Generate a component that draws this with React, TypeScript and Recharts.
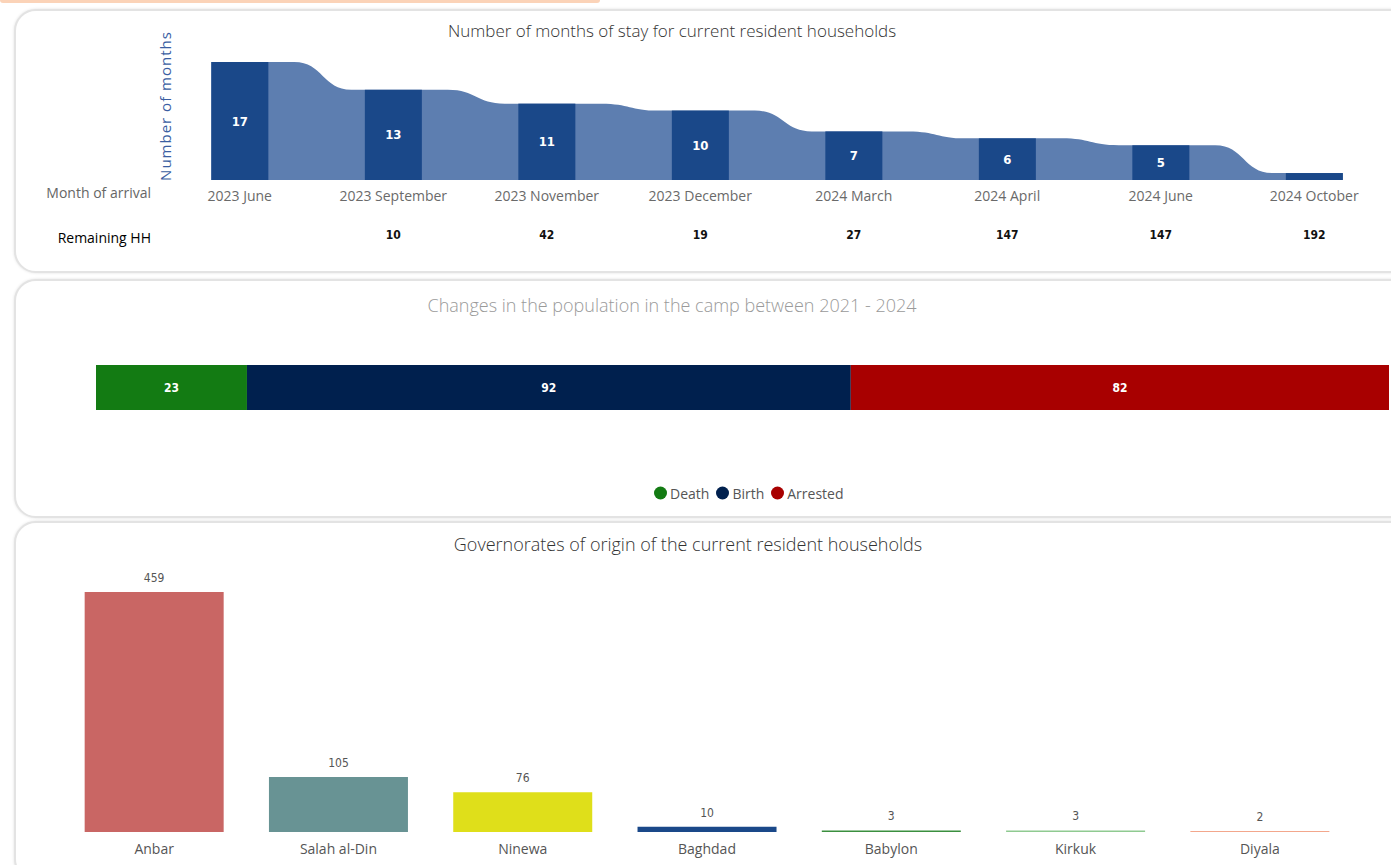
import React from 'react';
import { ComposedChart, BarChart, Bar, Area, XAxis, YAxis, LabelList, Cell } from 'recharts';

// ---------- data ----------
const months = ['2023 June', '2023 September', '2023 November', '2023 December', '2024 March', '2024 April', '2024 June', '2024 October'];
const monthsOfStay = [17, 13, 11, 10, 7, 6, 5, 1];
const remainingHH: (number | null)[] = [null, 10, 42, 19, 27, 147, 147, 192];

const changeLabels = ['Death', 'Birth', 'Arrested'];
const changeValues = [23, 92, 82];
const changeColors = ['#137b13', '#00204e', '#a80000'];

const governorates = ['Anbar', 'Salah al-Din', 'Ninewa', 'Baghdad', 'Babylon', 'Kirkuk', 'Diyala'];
const householdCounts = [459, 105, 76, 10, 3, 3, 2];
const governorateColors = ['#c96664', '#689394', '#dfdf1a', '#1a4889', '#3b8f3f', '#8fca91', '#f3a78c'];

// ---------- styling constants ----------
const SANS = '"Open Sans", "Noto Sans", sans-serif';
const NARROW = '"Liberation Sans Narrow", "DejaVu Sans Condensed", Roboto, sans-serif';
const W = 1391;

// chart 1 geometry
const C1_LEFT = 163;
const C1_RIGHT = 0;
const C1_BAR = 57;
const C1_STEP = (W - C1_LEFT - C1_RIGHT) / months.length;
const HALF = C1_BAR / 2 / C1_STEP;

const stayData = months.map((m, i) => ({ x: i, month: m, v: monthsOfStay[i] }));
const ribbonData = monthsOfStay.flatMap((v, i) => [
  { x: i - HALF, r: v },
  { x: i + HALF, r: v },
]);

const changeData = [
  changeLabels.reduce((acc: any, k, i) => {
    acc[k] = changeValues[i];
    return acc;
  }, { name: 'changes' }),
];

const govData = governorates.map((g, i) => ({ name: g, value: householdCounts[i] }));

// custom d3-style curve: flat runs, smooth S-step between different levels
function ribbonCurve(context: any) {
  let line = NaN;
  let point = 0;
  let px = 0;
  let py = 0;
  return {
    areaStart() { line = 0; },
    areaEnd() { line = NaN; },
    lineStart() { point = 0; },
    lineEnd() {
      if (line || (line !== 0 && point === 1)) context.closePath();
      line = 1 - line;
    },
    point(x: number, y: number) {
      x = +x; y = +y;
      if (point === 0) {
        point = 1;
        if (line) context.lineTo(x, y); else context.moveTo(x, y);
      } else {
        if (Math.abs(y - py) < 0.01) {
          context.lineTo(x, y);
        } else {
          const dx = x - px;
          const a = px + dx * 0.27;
          const b = px + dx * 0.86;
          const m = (b - a) * 0.5;
          context.lineTo(a, py);
          context.bezierCurveTo(a + m, py, b - m, y, b, y);
          context.lineTo(x, y);
        }
      }
      px = x; py = y;
    },
  };
}

// bar drawn at fixed width, centred on the scale position of its category
const StayBar = (props: any) => {
  const { x, y, width, height, fill } = props;
  if (height == null || isNaN(height)) return null;
  const cx = x + width / 2;
  return <rect x={cx - C1_BAR / 2} y={y} width={C1_BAR} height={height} fill={fill} />;
};

const StayTick = (props: any) => {
  const { x, y, payload } = props;
  const i = Math.round(payload.value);
  const hh = remainingHH[i];
  return (
    <g>
      <text x={x} y={y + 21} textAnchor="middle" fill="#6a6a6a" fontSize={14} fontFamily={SANS}>{months[i]}</text>
      {hh != null && (
        <text x={x} y={y + 59} textAnchor="middle" fill="#111" fontSize={12} fontWeight="bold" fontFamily={NARROW}>{hh}</text>
      )}
    </g>
  );
};

const cardStyle = (top: number, height: number): React.CSSProperties => ({
  position: 'absolute',
  left: 14,
  top,
  width: 1400,
  height,
  border: '2px solid #e3e3e3',
  borderRadius: 22,
  boxShadow: '0 0 3px rgba(0,0,0,0.12)',
  background: '#fff',
  boxSizing: 'border-box',
});

const titleStyle = (cx: number, cy: number, color: string, size: number): React.CSSProperties => ({
  position: 'absolute',
  left: cx,
  top: cy,
  transform: 'translate(-50%, -50%)',
  whiteSpace: 'nowrap',
  color,
  fontSize: size,
  fontFamily: SANS,
  fontWeight: 300,
});

export default function App() {
  return (
    <div style={{ position: 'absolute', left: 0, top: 0, width: W, height: 865, overflow: 'hidden', background: '#fff', fontFamily: SANS }}>
      <div style={{ position: 'absolute', left: 0, top: -3, width: 600, height: 6, background: '#fbd3b8', borderRadius: 3 }} />
      <div style={cardStyle(9, 264)} />
      <div style={cardStyle(279, 239)} />
      <div style={cardStyle(521, 360)} />

      {/* Chart 1 */}
      <div style={titleStyle(672, 30, '#333', 17)}>Number of months of stay for current resident households</div>
      <div style={{ ...titleStyle(165, 106, '#3a5ea2', 15), transform: 'translate(-50%, -50%) rotate(-90deg)', letterSpacing: 1, fontWeight: 400 }}>Number of months</div>
      <div style={{ position: 'absolute', right: W - 151, top: 192, transform: 'translateY(-50%)', color: '#666', fontSize: 14, whiteSpace: 'nowrap' }}>Month of arrival</div>
      <div style={{ position: 'absolute', right: W - 151, top: 237, transform: 'translateY(-50%)', color: '#000', fontSize: 14, whiteSpace: 'nowrap' }}>Remaining HH</div>
      <div style={{ position: 'absolute', left: 0, top: 0 }}>
        <ComposedChart width={W} height={260} data={stayData} margin={{ top: 62, right: C1_RIGHT, left: C1_LEFT, bottom: 20 }}>
          <XAxis
            dataKey="x"
            type="number"
            domain={[-0.5, months.length - 0.5]}
            ticks={months.map((_, i) => i)}
            interval={0}
            axisLine={false}
            tickLine={false}
            tickSize={0}
            tickMargin={0}
            height={60}
            tick={<StayTick />}
            allowDataOverflow
          />
          <YAxis hide width={0} domain={[0, 'dataMax']} />
          <Area
            data={ribbonData}
            dataKey="r"
            type={ribbonCurve as any}
            fill="#5d7eb0"
            fillOpacity={1}
            stroke="none"
            isAnimationActive={false}
            dot={false}
            activeDot={false}
          />
          <Bar dataKey="v" fill="#1a4889" shape={<StayBar />} isAnimationActive={false}>
            <LabelList
              dataKey="v"
              position="center"
              fill="#fff"
              fontSize={13}
              fontWeight="bold"
              fontFamily={NARROW}
              formatter={(val: any) => (Number(val) >= 2 ? val : '')}
            />
          </Bar>
        </ComposedChart>
      </div>

      {/* Chart 2 */}
      <div style={titleStyle(672, 305, '#9a9a9a', 18)}>Changes in the population in the camp between 2021 - 2024</div>
      <div style={{ position: 'absolute', left: 0, top: 340 }}>
        <BarChart width={W} height={100} data={changeData} layout="vertical" margin={{ top: 25, right: 2, left: 96, bottom: 30 }} barCategoryGap={0}>
          <XAxis type="number" hide domain={[0, 'dataMax']} />
          <YAxis type="category" dataKey="name" hide width={0} />
          {changeLabels.map((k, i) => (
            <Bar key={k} dataKey={k} stackId="a" fill={changeColors[i]} isAnimationActive={false}>
              <LabelList dataKey={k} position="center" fill="#fff" fontSize={12} fontWeight="bold" fontFamily={NARROW} />
            </Bar>
          ))}
        </BarChart>
      </div>
      <div style={{ position: 'absolute', left: 654, top: 493, transform: 'translateY(-50%)', display: 'flex', alignItems: 'center', fontFamily: SANS, fontSize: 14, color: '#555', whiteSpace: 'nowrap' }}>
        {changeLabels.map((k, i) => (
          <span key={k} style={{ display: 'flex', alignItems: 'center', marginRight: 7 }}>
            <span style={{ width: 13, height: 13, borderRadius: '50%', background: changeColors[i], display: 'inline-block', marginRight: 3 }} />
            {k}
          </span>
        ))}
      </div>

      {/* Chart 3 */}
      <div style={titleStyle(688, 544, '#333', 18)}>Governorates of origin of the current resident households</div>
      <div style={{ position: 'absolute', left: 0, top: 520 }}>
        <BarChart width={W} height={345} data={govData} margin={{ top: 72, right: 39, left: 62, bottom: 3 }} barCategoryGap="12.3%">
          <XAxis
            dataKey="name"
            axisLine={false}
            tickLine={false}
            tickSize={0}
            tickMargin={12}
            height={30}
            interval={0}
            tick={{ fill: '#555', fontSize: 14, fontFamily: SANS }}
          />
          <YAxis hide width={0} domain={[0, 'dataMax']} />
          <Bar dataKey="value" isAnimationActive={false}>
            {govData.map((d, i) => (
              <Cell key={d.name} fill={governorateColors[i]} />
            ))}
            <LabelList dataKey="value" position="top" offset={10} fill="#555" fontSize={12} fontFamily={NARROW} />
          </Bar>
        </BarChart>
      </div>
    </div>
  );
}
